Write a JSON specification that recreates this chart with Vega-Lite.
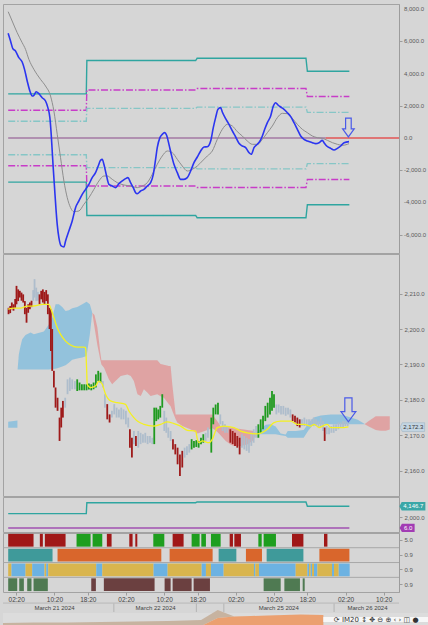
{
  "$schema": "https://vega.github.io/schema/vega-lite/v6.json",
  "background": "#d6d6d6",
  "padding": {"left": 2, "top": 3, "right": 0, "bottom": 0},
  "spacing": 1,
  "bounds": "flush",
  "config": {
    "view": {"stroke": "#a3a3a3", "strokeWidth": 1},
    "axis": {"labelFont": "Liberation Sans", "labelFontSize": 6, "labelColor": "#5a5a5a", "domainColor": "#9c9c9c", "tickColor": "#9c9c9c", "tickSize": 3, "labelPadding": 2, "grid": false, "title": null, "labelFlush": false},
    "text": {"font": "Liberation Sans"}
  },
  "resolve": {"scale": {"x": "independent", "y": "independent", "color": "independent", "strokeDash": "independent"}},
  "datasets": {
    "bands": [
      {"h":-1.68,"v":2740,"b":"t","s":"tu"},{"h":14.68,"v":2740,"b":"t","s":"tu"},{"h":14.8,"v":4810,"b":"t","s":"tu"},{"h":37.6,"v":4810,"b":"t","s":"tu"},{"h":37.9,"v":4950,"b":"t","s":"tu"},{"h":60.71,"v":4950,"b":"t","s":"tu"},{"h":61.0,"v":4146.7,"b":"t","s":"tu"},{"h":69.8,"v":4146.7,"b":"t","s":"tu"},
      {"h":-1.68,"v":-2740,"b":"t","s":"tl"},{"h":14.68,"v":-2740,"b":"t","s":"tl"},{"h":14.8,"v":-4810,"b":"t","s":"tl"},{"h":37.6,"v":-4810,"b":"t","s":"tl"},{"h":37.9,"v":-4950,"b":"t","s":"tl"},{"h":60.71,"v":-4950,"b":"t","s":"tl"},{"h":61.0,"v":-4146.7,"b":"t","s":"tl"},{"h":69.8,"v":-4146.7,"b":"t","s":"tl"},
      {"h":-1.68,"v":1720,"b":"m","s":"mu"},{"h":14.68,"v":1720,"b":"m","s":"mu"},{"h":14.8,"v":2980,"b":"m","s":"mu"},{"h":37.6,"v":2980,"b":"m","s":"mu"},{"h":37.9,"v":3070,"b":"m","s":"mu"},{"h":60.71,"v":3070,"b":"m","s":"mu"},{"h":61.0,"v":2577,"b":"m","s":"mu"},{"h":69.8,"v":2577,"b":"m","s":"mu"},
      {"h":-1.68,"v":-1720,"b":"m","s":"ml"},{"h":14.68,"v":-1720,"b":"m","s":"ml"},{"h":14.8,"v":-2980,"b":"m","s":"ml"},{"h":37.6,"v":-2980,"b":"m","s":"ml"},{"h":37.9,"v":-3070,"b":"m","s":"ml"},{"h":60.71,"v":-3070,"b":"m","s":"ml"},{"h":61.0,"v":-2577,"b":"m","s":"ml"},{"h":69.8,"v":-2577,"b":"m","s":"ml"},
      {"h":-1.68,"v":1045,"b":"l","s":"lu"},{"h":14.68,"v":1045,"b":"l","s":"lu"},{"h":14.8,"v":1840,"b":"l","s":"lu"},{"h":37.6,"v":1840,"b":"l","s":"lu"},{"h":37.9,"v":1915,"b":"l","s":"lu"},{"h":60.71,"v":1915,"b":"l","s":"lu"},{"h":61.0,"v":1594,"b":"l","s":"lu"},{"h":69.8,"v":1594,"b":"l","s":"lu"},
      {"h":-1.68,"v":-1045,"b":"l","s":"ll"},{"h":14.68,"v":-1045,"b":"l","s":"ll"},{"h":14.8,"v":-1840,"b":"l","s":"ll"},{"h":37.6,"v":-1840,"b":"l","s":"ll"},{"h":37.9,"v":-1915,"b":"l","s":"ll"},{"h":60.71,"v":-1915,"b":"l","s":"ll"},{"h":61.0,"v":-1594,"b":"l","s":"ll"},{"h":69.8,"v":-1594,"b":"l","s":"ll"}
    ],
    "zero": [{"a":-1.68,"e":64.85,"k":"p"},{"a":64.85,"e":80.2,"k":"r"}],
    "ylab1": [{"v":8000,"t":"8,000.0"},{"v":6000,"t":"6,000.0"},{"v":4000,"t":"4,000.0"},{"v":2000,"t":"2,000.0"},{"v":0,"t":"0.0"},{"v":-2000,"t":"-2,000.0"},{"v":-4000,"t":"-4,000.0"},{"v":-6000,"t":"-6,000.0"}],
    "osc": [
      {"h":-1.68,"v":6500,"s":"b"},{"h":-1.19,"v":6024,"s":"b"},{"h":-0.71,"v":5548,"s":"b"},{"h":-0.15,"v":5403,"s":"b"},{"h":0.55,"v":4989,"s":"b"},{"h":1.25,"v":4720,"s":"b"},{"h":1.74,"v":4264,"s":"b"},{"h":2.3,"v":3540,"s":"b"},{"h":2.86,"v":2919,"s":"b"},{"h":3.35,"v":2608,"s":"b"},{"h":3.7,"v":2650,"s":"b"},{"h":4.19,"v":2877,"s":"b"},{"h":4.74,"v":2753,"s":"b"},{"h":5.44,"v":2505,"s":"b"},{"h":6.14,"v":2298,"s":"b"},{"h":6.63,"v":1884,"s":"b"},{"h":7.05,"v":1263,"s":"b"},{"h":7.33,"v":228,"s":"b"},{"h":7.54,"v":-807,"s":"b"},{"h":7.75,"v":-1842,"s":"b"},{"h":8.03,"v":-3084,"s":"b"},{"h":8.31,"v":-4326,"s":"b"},{"h":8.59,"v":-5361,"s":"b"},{"h":8.94,"v":-6189,"s":"b"},{"h":9.43,"v":-6707,"s":"b"},{"h":9.99,"v":-6769,"s":"b"},{"h":10.34,"v":-6396,"s":"b"},{"h":11.03,"v":-5775,"s":"b"},{"h":11.73,"v":-5154,"s":"b"},{"h":12.43,"v":-4326,"s":"b"},{"h":13.13,"v":-3912,"s":"b"},{"h":13.83,"v":-3498,"s":"b"},{"h":14.53,"v":-3188,"s":"b"},{"h":15.23,"v":-2877,"s":"b"},{"h":15.92,"v":-2463,"s":"b"},{"h":16.62,"v":-2153,"s":"b"},{"h":17.18,"v":-1739,"s":"b"},{"h":17.67,"v":-1387,"s":"b"},{"h":18.02,"v":-1325,"s":"b"},{"h":18.37,"v":-1635,"s":"b"},{"h":18.93,"v":-2360,"s":"b"},{"h":19.42,"v":-2877,"s":"b"},{"h":20.12,"v":-2981,"s":"b"},{"h":20.82,"v":-3084,"s":"b"},{"h":21.52,"v":-2836,"s":"b"},{"h":22.21,"v":-2670,"s":"b"},{"h":22.91,"v":-2525,"s":"b"},{"h":23.4,"v":-2463,"s":"b"},{"h":23.96,"v":-2774,"s":"b"},{"h":24.52,"v":-3084,"s":"b"},{"h":25.01,"v":-3395,"s":"b"},{"h":25.36,"v":-3457,"s":"b"},{"h":26.06,"v":-3291,"s":"b"},{"h":26.76,"v":-3188,"s":"b"},{"h":27.46,"v":-2981,"s":"b"},{"h":28.16,"v":-2774,"s":"b"},{"h":28.72,"v":-2256,"s":"b"},{"h":29.2,"v":-1325,"s":"b"},{"h":29.55,"v":-600,"s":"b"},{"h":30.11,"v":21,"s":"b"},{"h":30.6,"v":228,"s":"b"},{"h":31.09,"v":331,"s":"b"},{"h":31.51,"v":166,"s":"b"},{"h":32.0,"v":-393,"s":"b"},{"h":32.49,"v":-1014,"s":"b"},{"h":33.05,"v":-1635,"s":"b"},{"h":33.75,"v":-2153,"s":"b"},{"h":34.44,"v":-2567,"s":"b"},{"h":35.14,"v":-2567,"s":"b"},{"h":35.84,"v":-2463,"s":"b"},{"h":36.54,"v":-2049,"s":"b"},{"h":37.24,"v":-1532,"s":"b"},{"h":37.94,"v":-1180,"s":"b"},{"h":38.64,"v":-807,"s":"b"},{"h":39.34,"v":-559,"s":"b"},{"h":40.04,"v":-538,"s":"b"},{"h":40.74,"v":-186,"s":"b"},{"h":41.29,"v":642,"s":"b"},{"h":41.78,"v":1263,"s":"b"},{"h":42.27,"v":1780,"s":"b"},{"h":42.83,"v":1884,"s":"b"},{"h":43.18,"v":1615,"s":"b"},{"h":43.88,"v":1201,"s":"b"},{"h":44.58,"v":849,"s":"b"},{"h":45.28,"v":435,"s":"b"},{"h":45.98,"v":62,"s":"b"},{"h":46.67,"v":-331,"s":"b"},{"h":47.37,"v":-497,"s":"b"},{"h":48.07,"v":-600,"s":"b"},{"h":48.77,"v":-911,"s":"b"},{"h":49.26,"v":-1014,"s":"b"},{"h":49.82,"v":-600,"s":"b"},{"h":50.52,"v":-393,"s":"b"},{"h":51.08,"v":-186,"s":"b"},{"h":51.57,"v":124,"s":"b"},{"h":52.06,"v":538,"s":"b"},{"h":52.62,"v":952,"s":"b"},{"h":53.31,"v":1366,"s":"b"},{"h":53.87,"v":1987,"s":"b"},{"h":54.36,"v":2194,"s":"b"},{"h":54.85,"v":2049,"s":"b"},{"h":55.41,"v":1925,"s":"b"},{"h":56.11,"v":1780,"s":"b"},{"h":56.81,"v":1573,"s":"b"},{"h":57.51,"v":1325,"s":"b"},{"h":58.2,"v":952,"s":"b"},{"h":58.9,"v":538,"s":"b"},{"h":59.6,"v":124,"s":"b"},{"h":60.3,"v":-83,"s":"b"},{"h":61.0,"v":-186,"s":"b"},{"h":62.05,"v":-290,"s":"b"},{"h":62.75,"v":-352,"s":"b"},{"h":63.45,"v":-290,"s":"b"},{"h":64.14,"v":-145,"s":"b"},{"h":64.49,"v":-290,"s":"b"},{"h":65.05,"v":-497,"s":"b"},{"h":65.89,"v":-642,"s":"b"},{"h":66.59,"v":-745,"s":"b"},{"h":67.29,"v":-642,"s":"b"},{"h":67.99,"v":-497,"s":"b"},{"h":68.69,"v":-290,"s":"b"},{"h":69.73,"v":-228,"s":"b"},
      {"h":-1.68,"v":7845,"s":"g"},{"h":-0.85,"v":7266,"s":"g"},{"h":0.2,"v":6541,"s":"g"},{"h":1.25,"v":5920,"s":"g"},{"h":1.95,"v":5506,"s":"g"},{"h":2.65,"v":4885,"s":"g"},{"h":3.7,"v":4264,"s":"g"},{"h":5.09,"v":3643,"s":"g"},{"h":6.14,"v":3229,"s":"g"},{"h":7.19,"v":2608,"s":"g"},{"h":7.89,"v":1677,"s":"g"},{"h":8.59,"v":228,"s":"g"},{"h":9.29,"v":-1221,"s":"g"},{"h":9.99,"v":-2670,"s":"g"},{"h":10.69,"v":-3705,"s":"g"},{"h":11.38,"v":-4326,"s":"g"},{"h":12.08,"v":-4575,"s":"g"},{"h":13.13,"v":-4533,"s":"g"},{"h":14.18,"v":-4119,"s":"g"},{"h":15.23,"v":-3705,"s":"g"},{"h":16.28,"v":-3188,"s":"g"},{"h":17.32,"v":-2670,"s":"g"},{"h":18.37,"v":-2360,"s":"g"},{"h":19.07,"v":-2360,"s":"g"},{"h":20.12,"v":-2567,"s":"g"},{"h":21.17,"v":-2774,"s":"g"},{"h":22.56,"v":-2919,"s":"g"},{"h":23.96,"v":-2981,"s":"g"},{"h":25.36,"v":-3084,"s":"g"},{"h":26.41,"v":-2981,"s":"g"},{"h":27.46,"v":-2774,"s":"g"},{"h":28.51,"v":-2256,"s":"g"},{"h":29.55,"v":-1635,"s":"g"},{"h":30.6,"v":-1118,"s":"g"},{"h":31.65,"v":-807,"s":"g"},{"h":32.7,"v":-911,"s":"g"},{"h":33.75,"v":-1325,"s":"g"},{"h":34.79,"v":-1739,"s":"g"},{"h":35.84,"v":-2049,"s":"g"},{"h":36.89,"v":-1946,"s":"g"},{"h":37.94,"v":-1739,"s":"g"},{"h":38.99,"v":-1428,"s":"g"},{"h":40.04,"v":-1118,"s":"g"},{"h":41.08,"v":-807,"s":"g"},{"h":42.13,"v":-83,"s":"g"},{"h":43.18,"v":538,"s":"g"},{"h":44.23,"v":849,"s":"g"},{"h":45.28,"v":745,"s":"g"},{"h":46.32,"v":393,"s":"g"},{"h":47.37,"v":124,"s":"g"},{"h":48.42,"v":-186,"s":"g"},{"h":49.47,"v":-393,"s":"g"},{"h":50.52,"v":-393,"s":"g"},{"h":51.57,"v":-83,"s":"g"},{"h":52.62,"v":331,"s":"g"},{"h":53.66,"v":745,"s":"g"},{"h":54.71,"v":1263,"s":"g"},{"h":55.76,"v":1532,"s":"g"},{"h":56.81,"v":1511,"s":"g"},{"h":57.85,"v":1221,"s":"g"},{"h":58.9,"v":849,"s":"g"},{"h":59.95,"v":538,"s":"g"},{"h":61.0,"v":331,"s":"g"},{"h":62.05,"v":124,"s":"g"},{"h":63.09,"v":21,"s":"g"},{"h":64.14,"v":-21,"s":"g"},{"h":65.19,"v":-145,"s":"g"},{"h":66.24,"v":-290,"s":"g"},{"h":67.29,"v":-393,"s":"g"},{"h":68.34,"v":-455,"s":"g"},{"h":69.38,"v":-393,"s":"g"},{"h":69.73,"v":-352,"s":"g"}
    ],
    "candles": [
      {"h":-1.61,"lo":2204.2,"hi":2206.0,"c":"r"},{"h":-1.26,"lo":2204.5,"hi":2206.5,"c":"r"},{"h":-0.92,"lo":2205.6,"hi":2207.5,"c":"r"},{"h":-0.57,"lo":2205.2,"hi":2207.0,"c":"r"},{"h":-0.22,"lo":2206.0,"hi":2208.5,"c":"r"},{"h":0.06,"lo":2207.0,"hi":2212.2,"c":"r"},{"h":0.41,"lo":2207.9,"hi":2211.2,"c":"r"},{"h":0.76,"lo":2208.9,"hi":2210.8,"c":"r"},{"h":1.11,"lo":2208.0,"hi":2210.3,"c":"r"},{"h":1.46,"lo":2207.5,"hi":2209.8,"c":"r"},{"h":1.81,"lo":2204.2,"hi":2207.9,"c":"r"},{"h":2.16,"lo":2201.8,"hi":2206.0,"c":"r"},{"h":2.51,"lo":2204.6,"hi":2207.0,"c":"r"},{"h":2.86,"lo":2205.6,"hi":2207.5,"c":"r"},{"h":3.21,"lo":2206.2,"hi":2208.0,"c":"r"},
      {"h":3.56,"lo":2208.0,"hi":2211.0,"c":"n"},{"h":3.84,"lo":2208.9,"hi":2214.1,"c":"n"},{"h":4.19,"lo":2207.9,"hi":2211.7,"c":"n"},{"h":4.54,"lo":2208.0,"hi":2210.5,"c":"n"},{"h":4.88,"lo":2207.0,"hi":2209.8,"c":"r"},{"h":5.23,"lo":2208.4,"hi":2210.8,"c":"r"},{"h":5.58,"lo":2207.5,"hi":2211.2,"c":"r"},{"h":5.93,"lo":2207.0,"hi":2210.5,"c":"r"},{"h":6.28,"lo":2207.9,"hi":2211.0,"c":"r"},{"h":6.63,"lo":2204.2,"hi":2209.8,"c":"r"},{"h":6.98,"lo":2200.0,"hi":2206.0,"c":"r"},{"h":7.26,"lo":2193.8,"hi":2205.6,"c":"r"},{"h":7.54,"lo":2188.2,"hi":2200.0,"c":"r"},{"h":7.89,"lo":2183.5,"hi":2188.2,"c":"r"},{"h":8.24,"lo":2177.8,"hi":2183.5,"c":"r"},{"h":8.66,"lo":2176.9,"hi":2180.6,"c":"r"},{"h":9.08,"lo":2168.4,"hi":2175.0,"c":"r"},{"h":9.43,"lo":2172.2,"hi":2177.8,"c":"r"},{"h":9.78,"lo":2175.0,"hi":2179.7,"c":"r"},
      {"h":10.26,"lo":2177.8,"hi":2180.6,"c":"n"},{"h":10.75,"lo":2181.6,"hi":2185.8,"c":"n"},{"h":11.24,"lo":2182.5,"hi":2186.3,"c":"n"},{"h":11.73,"lo":2183.0,"hi":2185.8,"c":"n"},{"h":12.29,"lo":2183.0,"hi":2185.3,"c":"n"},{"h":12.78,"lo":2182.5,"hi":2185.8,"c":"g"},{"h":13.27,"lo":2182.7,"hi":2184.9,"c":"g"},{"h":13.76,"lo":2182.7,"hi":2184.4,"c":"g"},{"h":14.25,"lo":2182.7,"hi":2184.4,"c":"g"},{"h":14.74,"lo":2182.7,"hi":2184.4,"c":"g"},{"h":15.23,"lo":2182.9,"hi":2184.6,"c":"g"},{"h":15.72,"lo":2182.7,"hi":2184.4,"c":"g"},{"h":16.21,"lo":2183.0,"hi":2184.9,"c":"g"},{"h":16.69,"lo":2183.5,"hi":2187.2,"c":"g"},{"h":17.18,"lo":2185.3,"hi":2188.2,"c":"g"},{"h":17.67,"lo":2184.9,"hi":2187.7,"c":"g"},
      {"h":18.16,"lo":2183.5,"hi":2185.3,"c":"n"},{"h":18.58,"lo":2177.8,"hi":2181.6,"c":"n"},{"h":19.07,"lo":2174.5,"hi":2178.8,"c":"r"},{"h":19.56,"lo":2173.6,"hi":2175.9,"c":"r"},{"h":20.05,"lo":2175.0,"hi":2176.9,"c":"n"},{"h":20.54,"lo":2175.9,"hi":2178.8,"c":"n"},{"h":21.03,"lo":2175.0,"hi":2177.8,"c":"n"},{"h":21.52,"lo":2175.0,"hi":2177.3,"c":"n"},{"h":22.0,"lo":2174.5,"hi":2177.8,"c":"n"},{"h":22.49,"lo":2174.5,"hi":2177.3,"c":"n"},{"h":22.98,"lo":2173.1,"hi":2176.9,"c":"n"},{"h":23.47,"lo":2172.2,"hi":2175.0,"c":"n"},{"h":23.82,"lo":2166.5,"hi":2171.7,"c":"r"},{"h":24.24,"lo":2163.7,"hi":2169.3,"c":"r"},{"h":24.66,"lo":2167.5,"hi":2171.2,"c":"n"},{"h":25.08,"lo":2167.0,"hi":2169.8,"c":"r"},{"h":25.57,"lo":2166.5,"hi":2171.2,"c":"n"},
      {"h":26.06,"lo":2167.5,"hi":2170.7,"c":"n"},{"h":26.55,"lo":2167.9,"hi":2170.3,"c":"n"},{"h":27.04,"lo":2167.9,"hi":2170.7,"c":"n"},{"h":27.53,"lo":2167.5,"hi":2169.8,"c":"n"},{"h":28.02,"lo":2167.9,"hi":2169.8,"c":"n"},{"h":28.51,"lo":2167.5,"hi":2169.3,"c":"n"},{"h":28.92,"lo":2167.5,"hi":2177.8,"c":"g"},{"h":29.34,"lo":2174.0,"hi":2177.8,"c":"g"},{"h":29.76,"lo":2174.5,"hi":2177.3,"c":"g"},{"h":30.18,"lo":2175.0,"hi":2178.3,"c":"g"},{"h":30.6,"lo":2177.8,"hi":2181.6,"c":"g"},{"h":31.02,"lo":2171.2,"hi":2176.9,"c":"n"},{"h":31.44,"lo":2170.7,"hi":2175.0,"c":"n"},{"h":31.86,"lo":2169.3,"hi":2172.2,"c":"n"},{"h":32.35,"lo":2168.4,"hi":2171.2,"c":"n"},
      {"h":32.84,"lo":2166.0,"hi":2168.9,"c":"r"},{"h":33.33,"lo":2164.6,"hi":2167.5,"c":"r"},{"h":33.81,"lo":2161.8,"hi":2166.5,"c":"r"},{"h":34.3,"lo":2158.5,"hi":2164.6,"c":"r"},{"h":34.79,"lo":2160.9,"hi":2165.6,"c":"r"},{"h":35.28,"lo":2163.7,"hi":2166.5,"c":"n"},{"h":35.77,"lo":2164.4,"hi":2166.9,"c":"n"},{"h":36.26,"lo":2165.1,"hi":2167.5,"c":"n"},{"h":36.75,"lo":2166.0,"hi":2168.9,"c":"g"},{"h":37.24,"lo":2166.5,"hi":2168.4,"c":"g"},{"h":37.73,"lo":2166.7,"hi":2168.6,"c":"g"},{"h":38.22,"lo":2166.5,"hi":2168.4,"c":"g"},{"h":38.71,"lo":2167.5,"hi":2169.3,"c":"g"},{"h":39.2,"lo":2167.9,"hi":2170.3,"c":"g"},{"h":39.69,"lo":2168.4,"hi":2170.7,"c":"n"},{"h":40.17,"lo":2169.3,"hi":2172.2,"c":"n"},
      {"h":40.87,"lo":2165.1,"hi":2175.0,"c":"g"},{"h":41.29,"lo":2173.1,"hi":2177.8,"c":"g"},{"h":41.78,"lo":2175.9,"hi":2178.7,"c":"g"},{"h":42.27,"lo":2175.9,"hi":2179.2,"c":"g"},{"h":42.76,"lo":2173.1,"hi":2175.9,"c":"n"},{"h":43.25,"lo":2171.2,"hi":2174.0,"c":"n"},{"h":43.74,"lo":2170.7,"hi":2173.1,"c":"n"},{"h":44.23,"lo":2170.7,"hi":2172.6,"c":"n"},{"h":44.86,"lo":2167.9,"hi":2171.7,"c":"r"},{"h":45.35,"lo":2167.5,"hi":2171.2,"c":"r"},{"h":45.84,"lo":2167.0,"hi":2170.7,"c":"r"},{"h":46.32,"lo":2166.5,"hi":2169.8,"c":"r"},{"h":46.81,"lo":2164.6,"hi":2169.3,"c":"r"},
      {"h":47.3,"lo":2166.5,"hi":2170.3,"c":"n"},{"h":47.79,"lo":2166.0,"hi":2169.8,"c":"n"},{"h":48.28,"lo":2165.6,"hi":2169.3,"c":"n"},{"h":48.77,"lo":2165.1,"hi":2168.9,"c":"n"},{"h":49.26,"lo":2167.0,"hi":2170.7,"c":"n"},{"h":49.75,"lo":2167.9,"hi":2171.7,"c":"n"},{"h":50.24,"lo":2169.3,"hi":2172.6,"c":"n"},{"h":50.73,"lo":2169.3,"hi":2173.1,"c":"g"},{"h":51.22,"lo":2170.7,"hi":2174.5,"c":"g"},{"h":51.71,"lo":2171.7,"hi":2175.5,"c":"g"},{"h":52.19,"lo":2174.0,"hi":2178.3,"c":"g"},{"h":52.68,"lo":2175.0,"hi":2179.2,"c":"g"},{"h":53.17,"lo":2175.9,"hi":2180.6,"c":"g"},{"h":53.59,"lo":2176.9,"hi":2182.5,"c":"g"},{"h":54.01,"lo":2177.8,"hi":2181.6,"c":"g"},
      {"h":54.5,"lo":2175.9,"hi":2178.7,"c":"n"},{"h":54.99,"lo":2176.4,"hi":2178.7,"c":"n"},{"h":55.48,"lo":2175.9,"hi":2178.3,"c":"n"},{"h":55.97,"lo":2175.9,"hi":2178.3,"c":"n"},{"h":56.46,"lo":2175.5,"hi":2177.8,"c":"n"},{"h":56.95,"lo":2175.9,"hi":2177.8,"c":"n"},{"h":57.44,"lo":2175.0,"hi":2177.3,"c":"n"},{"h":57.92,"lo":2174.0,"hi":2175.9,"c":"r"},{"h":58.41,"lo":2173.6,"hi":2175.5,"c":"r"},{"h":58.9,"lo":2172.6,"hi":2175.0,"c":"r"},{"h":59.39,"lo":2172.2,"hi":2174.5,"c":"r"},
      {"h":59.88,"lo":2172.6,"hi":2174.5,"c":"n"},{"h":60.37,"lo":2172.6,"hi":2175.0,"c":"n"},{"h":60.86,"lo":2172.6,"hi":2174.5,"c":"n"},{"h":61.35,"lo":2173.1,"hi":2174.5,"c":"n"},{"h":61.84,"lo":2172.6,"hi":2174.5,"c":"n"},{"h":62.33,"lo":2172.6,"hi":2175.0,"c":"n"},{"h":62.82,"lo":2172.6,"hi":2174.5,"c":"n"},{"h":63.31,"lo":2172.2,"hi":2174.0,"c":"n"},{"h":63.8,"lo":2172.2,"hi":2175.0,"c":"n"},{"h":64.28,"lo":2171.2,"hi":2174.0,"c":"n"},{"h":64.63,"lo":2168.4,"hi":2172.2,"c":"r"},{"h":65.05,"lo":2170.3,"hi":2172.6,"c":"n"},{"h":65.54,"lo":2170.3,"hi":2172.2,"c":"n"},{"h":66.03,"lo":2170.7,"hi":2172.6,"c":"n"},{"h":66.52,"lo":2170.7,"hi":2173.1,"c":"n"},{"h":67.01,"lo":2171.2,"hi":2173.1,"c":"n"},{"h":67.5,"lo":2171.7,"hi":2173.6,"c":"n"},{"h":67.99,"lo":2172.2,"hi":2173.6,"c":"n"},{"h":68.48,"lo":2172.2,"hi":2174.0,"c":"n"},{"h":68.96,"lo":2172.6,"hi":2174.0,"c":"n"},{"h":69.45,"lo":2172.6,"hi":2173.6,"c":"n"}
    ],
    "cloud": [
      {"h":-1.68,"t":2173.8,"b":2172.1,"k":"bl","g":"b0"},{"h":0.25,"t":2174.2,"b":2172.1,"k":"bl","g":"b0"},
      {"h":0.3,"t":2188.8,"b":2188.6,"k":"bl","g":"b1"},{"h":0.55,"t":2192.9,"b":2188.6,"k":"bl","g":"b1"},{"h":0.9,"t":2195.2,"b":2188.6,"k":"bl","g":"b1"},{"h":1.25,"t":2197.1,"b":2188.6,"k":"bl","g":"b1"},{"h":1.95,"t":2198.3,"b":2188.6,"k":"bl","g":"b1"},{"h":3.0,"t":2199.0,"b":2188.6,"k":"bl","g":"b1"},{"h":3.7,"t":2198.5,"b":2188.6,"k":"bl","g":"b1"},{"h":5.79,"t":2199.3,"b":2188.6,"k":"bl","g":"b1"},{"h":6.84,"t":2201.3,"b":2188.6,"k":"bl","g":"b1"},{"h":7.55,"t":2203.2,"b":2188.7,"k":"bl","g":"b1"},{"h":8.24,"t":2207.0,"b":2188.8,"k":"bl","g":"b1"},{"h":8.94,"t":2207.0,"b":2189.1,"k":"bl","g":"b1"},{"h":9.64,"t":2206.2,"b":2189.4,"k":"bl","g":"b1"},{"h":10.34,"t":2205.1,"b":2189.8,"k":"bl","g":"b1"},{"h":11.03,"t":2205.3,"b":2190.5,"k":"bl","g":"b1"},{"h":11.74,"t":2205.9,"b":2191.3,"k":"bl","g":"b1"},{"h":12.79,"t":2206.2,"b":2191.7,"k":"bl","g":"b1"},{"h":13.84,"t":2207.0,"b":2192.0,"k":"bl","g":"b1"},{"h":14.74,"t":2207.7,"b":2192.4,"k":"bl","g":"b1"},{"h":15.43,"t":2207.0,"b":2198.5,"k":"bl","g":"b1"},{"h":15.93,"t":2204.6,"b":2204.6,"k":"bl","g":"b1"},
      {"h":15.93,"t":2204.6,"b":2204.6,"k":"rd","g":"r1"},{"h":16.4,"t":2204.0,"b":2200.5,"k":"rd","g":"r1"},{"h":17.0,"t":2200.5,"b":2195.5,"k":"rd","g":"r1"},{"h":17.6,"t":2193.5,"b":2191.5,"k":"rd","g":"r1"},{"h":17.85,"t":2191.2,"b":2190.0,"k":"rd","g":"r1"},{"h":18.4,"t":2191.2,"b":2189.1,"k":"rd","g":"r1"},{"h":19.4,"t":2191.2,"b":2185.8,"k":"rd","g":"r1"},{"h":20.1,"t":2191.2,"b":2184.4,"k":"rd","g":"r1"},{"h":20.8,"t":2191.2,"b":2185.3,"k":"rd","g":"r1"},{"h":21.9,"t":2191.2,"b":2186.75,"k":"rd","g":"r1"},{"h":23.3,"t":2191.2,"b":2187.2,"k":"rd","g":"r1"},{"h":24.0,"t":2191.2,"b":2186.75,"k":"rd","g":"r1"},{"h":24.65,"t":2191.2,"b":2185.3,"k":"rd","g":"r1"},{"h":25.4,"t":2191.2,"b":2181.6,"k":"rd","g":"r1"},{"h":26.1,"t":2191.2,"b":2181.1,"k":"rd","g":"r1"},{"h":26.75,"t":2191.2,"b":2183.0,"k":"rd","g":"r1"},{"h":27.46,"t":2191.2,"b":2182.05,"k":"rd","g":"r1"},{"h":28.16,"t":2191.2,"b":2181.1,"k":"rd","g":"r1"},{"h":29.56,"t":2191.2,"b":2181.6,"k":"rd","g":"r1"},{"h":30.25,"t":2190.1,"b":2181.0,"k":"rd","g":"r1"},{"h":30.94,"t":2189.9,"b":2180.6,"k":"rd","g":"r1"},{"h":31.99,"t":2189.6,"b":2178.75,"k":"rd","g":"r1"},{"h":32.35,"t":2189.6,"b":2178.2,"k":"rd","g":"r1"},{"h":32.7,"t":2184.4,"b":2176.9,"k":"rd","g":"r1"},{"h":33.4,"t":2175.9,"b":2174.5,"k":"rd","g":"r1"},{"h":33.75,"t":2175.9,"b":2173.6,"k":"rd","g":"r1"},{"h":34.8,"t":2175.9,"b":2172.6,"k":"rd","g":"r1"},{"h":36.5,"t":2175.9,"b":2171.7,"k":"rd","g":"r1"},{"h":38.0,"t":2175.9,"b":2170.5,"k":"rd","g":"r1"},{"h":39.5,"t":2175.9,"b":2171.2,"k":"rd","g":"r1"},{"h":41.1,"t":2175.9,"b":2172.0,"k":"rd","g":"r1"},{"h":42.1,"t":2174.0,"b":2171.0,"k":"rd","g":"r1"},{"h":42.8,"t":2172.6,"b":2170.0,"k":"rd","g":"r1"},{"h":43.9,"t":2172.4,"b":2168.4,"k":"rd","g":"r1"},{"h":44.9,"t":2172.2,"b":2167.4,"k":"rd","g":"r1"},{"h":45.6,"t":2172.0,"b":2167.0,"k":"rd","g":"r1"},{"h":47.0,"t":2171.8,"b":2167.0,"k":"rd","g":"r1"},{"h":48.4,"t":2171.5,"b":2167.4,"k":"rd","g":"r1"},{"h":49.5,"t":2171.3,"b":2168.4,"k":"rd","g":"r1"},{"h":50.2,"t":2170.6,"b":2170.0,"k":"rd","g":"r1"},
      {"h":50.2,"t":2170.6,"b":2170.0,"k":"bl","g":"b2"},{"h":51.22,"t":2171.8,"b":2170.3,"k":"bl","g":"b2"},{"h":52.26,"t":2173.0,"b":2170.3,"k":"bl","g":"b2"},{"h":53.31,"t":2173.1,"b":2170.3,"k":"bl","g":"b2"},{"h":54.36,"t":2172.5,"b":2170.3,"k":"bl","g":"b2"},{"h":55.41,"t":2170.5,"b":2170.0,"k":"bl","g":"b2"},{"h":56.46,"t":2170.2,"b":2169.8,"k":"bl","g":"b2"},{"h":56.88,"t":2171.2,"b":2169.3,"k":"bl","g":"b2"},{"h":58.55,"t":2171.2,"b":2169.3,"k":"bl","g":"b2"},{"h":60.23,"t":2171.5,"b":2169.3,"k":"bl","g":"b2"},{"h":61.28,"t":2173.5,"b":2171.5,"k":"bl","g":"b2"},{"h":62.33,"t":2175.0,"b":2173.1,"k":"bl","g":"b2"},{"h":63.8,"t":2175.6,"b":2173.1,"k":"bl","g":"b2"},{"h":65.9,"t":2175.9,"b":2173.1,"k":"bl","g":"b2"},{"h":68.0,"t":2175.9,"b":2173.1,"k":"bl","g":"b2"},{"h":70.1,"t":2175.0,"b":2173.1,"k":"bl","g":"b2"},{"h":71.55,"t":2174.4,"b":2173.1,"k":"bl","g":"b2"},{"h":73.02,"t":2173.2,"b":2173.1,"k":"bl","g":"b2"},
      {"h":73.02,"t":2173.2,"b":2173.1,"k":"rd","g":"r2"},{"h":73.86,"t":2174.0,"b":2172.5,"k":"rd","g":"r2"},{"h":75.33,"t":2175.4,"b":2171.5,"k":"rd","g":"r2"},{"h":76.37,"t":2175.4,"b":2171.3,"k":"rd","g":"r2"},{"h":77.42,"t":2175.4,"b":2171.3,"k":"rd","g":"r2"},{"h":78.26,"t":2175.4,"b":2171.6,"k":"rd","g":"r2"}
    ],
    "yellow": [
      {"h":-1.68,"v":2205.6},{"h":-0.5,"v":2205.9},{"h":0.9,"v":2205.9},{"h":2.3,"v":2206.5},{"h":3.35,"v":2206.5},{"h":4.4,"v":2206.7},{"h":5.45,"v":2207.0},{"h":6.84,"v":2207.0},{"h":7.19,"v":2206.05},{"h":7.89,"v":2203.2},{"h":8.6,"v":2200.4},{"h":9.29,"v":2198.5},{"h":10.34,"v":2196.6},{"h":11.38,"v":2195.5},{"h":12.79,"v":2194.9},{"h":14.18,"v":2194.9},{"h":14.53,"v":2194.75},{"h":14.74,"v":2189.1},{"h":14.88,"v":2184.4},{"h":15.58,"v":2183.45},{"h":16.62,"v":2183.9},{"h":17.32,"v":2185.3},{"h":18.03,"v":2184.4},{"h":18.72,"v":2181.6},{"h":19.77,"v":2179.7},{"h":21.17,"v":2179.2},{"h":22.91,"v":2178.75},{"h":23.61,"v":2176.86},{"h":24.65,"v":2174.98},{"h":25.37,"v":2174.0},{"h":26.75,"v":2173.1},{"h":28.85,"v":2172.6},{"h":30.25,"v":2173.1},{"h":31.66,"v":2173.8},{"h":33.04,"v":2173.3},{"h":34.45,"v":2172.6},{"h":35.85,"v":2171.4},{"h":37.59,"v":2171.2},{"h":37.95,"v":2168.9},{"h":38.28,"v":2167.9},{"h":38.99,"v":2168.4},{"h":40.38,"v":2167.9},{"h":41.09,"v":2168.9},{"h":42.14,"v":2172.15},{"h":43.52,"v":2172.6},{"h":45.62,"v":2172.15},{"h":47.02,"v":2171.2},{"h":48.43,"v":2170.7},{"h":50.52,"v":2170.4},{"h":52.62,"v":2171.7},{"h":54.0,"v":2173.57},{"h":55.41,"v":2174.0},{"h":57.51,"v":2174.0},{"h":58.91,"v":2173.1},{"h":60.29,"v":2173.1},{"h":61.7,"v":2172.6},{"h":62.39,"v":2173.1},{"h":63.44,"v":2172.2},{"h":64.15,"v":2172.6},{"h":65.2,"v":2173.1},{"h":65.89,"v":2172.15},{"h":67.99,"v":2172.15},{"h":69.6,"v":2172.4}
    ],
    "strips": [
      {"x0":-1.68,"x1":3.63,"row":"A","c":"red"},{"x0":4.95,"x1":5.58,"row":"A","c":"red"},{"x0":6.0,"x1":10.34,"row":"A","c":"red"},{"x0":12.64,"x1":15.58,"row":"A","c":"green"},{"x0":16.0,"x1":18.03,"row":"A","c":"green"},{"x0":18.99,"x1":19.98,"row":"A","c":"red"},{"x0":23.69,"x1":24.38,"row":"A","c":"red"},{"x0":24.95,"x1":25.37,"row":"A","c":"red"},{"x0":28.72,"x1":31.03,"row":"A","c":"green"},{"x0":32.77,"x1":35.07,"row":"A","c":"red"},{"x0":36.75,"x1":38.43,"row":"A","c":"green"},{"x0":38.78,"x1":39.75,"row":"A","c":"green"},{"x0":40.8,"x1":42.83,"row":"A","c":"green"},{"x0":44.72,"x1":45.41,"row":"A","c":"red"},{"x0":45.7,"x1":47.09,"row":"A","c":"red"},{"x0":50.73,"x1":51.43,"row":"A","c":"green"},{"x0":51.84,"x1":54.42,"row":"A","c":"green"},{"x0":57.78,"x1":60.17,"row":"A","c":"red"},{"x0":64.49,"x1":65.2,"row":"A","c":"red"},
      {"x0":-1.68,"x1":7.61,"row":"B","c":"teal"},{"x0":8.66,"x1":30.4,"row":"B","c":"orange"},{"x0":32.14,"x1":41.15,"row":"B","c":"orange"},{"x0":42.41,"x1":46.12,"row":"B","c":"teal"},{"x0":48.13,"x1":51.49,"row":"B","c":"orange"},{"x0":52.47,"x1":60.17,"row":"B","c":"teal"},{"x0":63.52,"x1":69.81,"row":"B","c":"orange"},
      {"x0":-1.68,"x1":-0.99,"row":"C","c":"yellow"},{"x0":-0.99,"x1":1.95,"row":"C","c":"blue"},{"x0":1.95,"x1":3.35,"row":"C","c":"yellow"},{"x0":3.35,"x1":5.93,"row":"C","c":"blue"},{"x0":5.93,"x1":6.29,"row":"C","c":"yellow"},{"x0":6.29,"x1":6.71,"row":"C","c":"blue"},{"x0":6.71,"x1":16.77,"row":"C","c":"yellow"},{"x0":16.77,"x1":18.03,"row":"C","c":"blue"},{"x0":18.03,"x1":28.78,"row":"C","c":"yellow"},{"x0":28.78,"x1":31.72,"row":"C","c":"blue"},{"x0":31.72,"x1":38.85,"row":"C","c":"yellow"},{"x0":38.85,"x1":39.75,"row":"C","c":"blue"},{"x0":39.75,"x1":40.8,"row":"C","c":"yellow"},{"x0":40.8,"x1":43.46,"row":"C","c":"blue"},{"x0":43.46,"x1":49.81,"row":"C","c":"yellow"},{"x0":49.81,"x1":50.1,"row":"C","c":"blue"},{"x0":50.1,"x1":50.86,"row":"C","c":"yellow"},{"x0":50.86,"x1":58.55,"row":"C","c":"blue"},{"x0":58.55,"x1":61.01,"row":"C","c":"yellow"},{"x0":61.01,"x1":61.35,"row":"C","c":"blue"},{"x0":61.35,"x1":61.7,"row":"C","c":"yellow"},{"x0":61.7,"x1":61.98,"row":"C","c":"blue"},{"x0":61.98,"x1":62.39,"row":"C","c":"yellow"},{"x0":62.39,"x1":63.1,"row":"C","c":"blue"},{"x0":63.1,"x1":66.16,"row":"C","c":"yellow"},{"x0":66.16,"x1":66.58,"row":"C","c":"blue"},{"x0":66.58,"x1":67.57,"row":"C","c":"yellow"},{"x0":67.57,"x1":69.87,"row":"C","c":"blue"},
      {"x0":-1.68,"x1":0.21,"row":"D","c":"dgreen"},{"x0":0.63,"x1":1.6,"row":"D","c":"dgreen"},{"x0":2.3,"x1":3.2,"row":"D","c":"dgreen"},{"x0":3.63,"x1":6.62,"row":"D","c":"dgreen"},{"x0":15.72,"x1":16.69,"row":"D","c":"brown"},{"x0":18.36,"x1":28.99,"row":"D","c":"brown"},{"x0":31.09,"x1":32.35,"row":"D","c":"brown"},{"x0":32.77,"x1":36.75,"row":"D","c":"brown"},{"x0":37.17,"x1":40.59,"row":"D","c":"brown"},{"x0":51.84,"x1":55.41,"row":"D","c":"dgreen"},{"x0":56.18,"x1":59.45,"row":"D","c":"dgreen"},{"x0":60.02,"x1":60.44,"row":"D","c":"dgreen"}
    ],
    "dates": [
      {"h":8.03,"label":"March 21 2024"},{"h":29.2,"label":"March 22 2024"},{"h":55.0,"label":"March 25 2024"},{"h":73.6,"label":"March 26 2024"}
    ],
    "daysep": [{"h":20.46},{"h":37.74},{"h":43.5},{"h":66.6}],
    "nav": [
      {"p":0,"lv":3,"part":"a"},{"p":7.3,"lv":3.5,"part":"a"},{"p":15.2,"lv":3.5,"part":"a"},{"p":23,"lv":4,"part":"a"},{"p":30.8,"lv":4.5,"part":"a"},{"p":38.7,"lv":5,"part":"a"},{"p":46.5,"lv":6,"part":"a"},{"p":50.4,"lv":8,"part":"a"},
      {"p":50.4,"lv":8,"part":"b"},{"p":54.3,"lv":9.5,"part":"b"},{"p":58.2,"lv":10,"part":"b"},{"p":62.1,"lv":10.5,"part":"b"},{"p":66,"lv":11,"part":"b"},{"p":69.9,"lv":11.5,"part":"b"},{"p":75.2,"lv":11,"part":"b"}
    ]
  },
  "vconcat": [
    {
      "width": 396, "height": 249,
      "layer": [
        {
          "data": {"name": "bands"},
          "mark": {"type": "line", "strokeWidth": 1.4},
          "encoding": {
            "x": {"field": "h", "type": "quantitative", "scale": {"domain": [-2.77, 80.2], "nice": false, "zero": false}, "axis": null},
            "y": {"field": "v", "type": "quantitative", "scale": {"domain": [-7143, 8323], "nice": false, "zero": false}, "axis": {"orient": "right", "values": [-6000, -4000, -2000, 0, 2000, 4000, 6000, 8000], "labels": false}},
            "detail": {"field": "s"},
            "color": {"field": "b", "type": "nominal", "scale": {"domain": ["t", "m", "l"], "range": ["#2fa5a0", "#c83cc8", "#86c6c6"]}, "legend": null},
            "strokeDash": {"field": "b", "type": "nominal", "scale": {"domain": ["t", "m", "l"], "range": [[1, 0], [7, 2, 1.5, 2], [7, 2, 1.5, 2]]}, "legend": null}
          }
        },
        {
          "data": {"name": "ylab1"},
          "mark": {"type": "text", "fontSize": 6, "color": "#5a5a5a", "align": "left", "baseline": "middle", "dx": 5},
          "encoding": {"x": {"datum": 80.2, "type": "quantitative"}, "y": {"field": "v", "type": "quantitative"}, "text": {"field": "t"}}
        },
        {
          "data": {"name": "zero"},
          "transform": [{"filter": "datum.k == 'p'"}],
          "mark": {"type": "rule", "color": "#8a4a8a", "strokeWidth": 1.2},
          "encoding": {"x": {"field": "a", "type": "quantitative"}, "x2": {"field": "e"}, "y": {"datum": 0, "type": "quantitative"}}
        },
        {
          "data": {"name": "zero"},
          "transform": [{"filter": "datum.k == 'r'"}],
          "mark": {"type": "rule", "color": "#e25555", "strokeWidth": 1.4},
          "encoding": {"x": {"field": "a", "type": "quantitative"}, "x2": {"field": "e"}, "y": {"datum": 0, "type": "quantitative"}}
        },
        {
          "data": {"name": "osc"},
          "transform": [{"filter": "datum.s == 'g'"}],
          "mark": {"type": "line", "color": "#8e8e8e", "strokeWidth": 1, "interpolate": "monotone"},
          "encoding": {"x": {"field": "h", "type": "quantitative"}, "y": {"field": "v", "type": "quantitative"}}
        },
        {
          "data": {"name": "osc"},
          "transform": [{"filter": "datum.s == 'b'"}],
          "mark": {"type": "line", "color": "#2b35f0", "strokeWidth": 1.6, "interpolate": "monotone"},
          "encoding": {"x": {"field": "h", "type": "quantitative"}, "y": {"field": "v", "type": "quantitative"}}
        },
        {
          "data": {"values": [{"h": 69.6, "v": 650}]},
          "mark": {"type": "point", "shape": "M -0.3 -1 L 0.3 -1 L 0.3 0.15 L 0.62 0.15 L 0 1 L -0.62 0.15 L -0.3 0.15 Z", "size": 350, "filled": false, "color": "#4a5ae8", "strokeWidth": 1.2, "opacity": 1},
          "encoding": {"x": {"field": "h", "type": "quantitative"}, "y": {"field": "v", "type": "quantitative"}}
        }
      ]
    },
    {
      "width": 396, "height": 242,
      "resolve": {"scale": {"color": "independent"}},
      "layer": [
        {
          "data": {"name": "cloud"},
          "mark": {"type": "area", "opacity": 0.95},
          "encoding": {
            "x": {"field": "h", "type": "quantitative", "scale": {"domain": [-2.77, 80.2], "nice": false, "zero": false}, "axis": null},
            "y": {"field": "t", "type": "quantitative", "scale": {"domain": [2152.85, 2221.2], "nice": false, "zero": false}, "axis": {"orient": "right", "values": [2160, 2170, 2180, 2190, 2200, 2210], "format": ",.1f"}},
            "y2": {"field": "b"},
            "detail": {"field": "g"},
            "color": {"field": "k", "type": "nominal", "scale": {"domain": ["bl", "rd"], "range": ["#8fc1dc", "#dfa0a0"]}, "legend": null}
          }
        },
        {
          "data": {"name": "candles"},
          "mark": {"type": "rule", "strokeWidth": 1.8},
          "encoding": {
            "x": {"field": "h", "type": "quantitative"},
            "y": {"field": "lo", "type": "quantitative"},
            "y2": {"field": "hi"},
            "color": {"field": "c", "type": "nominal", "scale": {"domain": ["r", "g", "n"], "range": ["#9e1a1a", "#1f9a1f", "#aebdcc"]}, "legend": null}
          }
        },
        {
          "data": {"name": "yellow"},
          "mark": {"type": "line", "color": "#f4f020", "strokeWidth": 1.3, "interpolate": "monotone"},
          "encoding": {"x": {"field": "h", "type": "quantitative"}, "y": {"field": "v", "type": "quantitative"}}
        },
        {
          "data": {"values": [{"h": 69.6, "v": 2177.2}]},
          "mark": {"type": "point", "shape": "M -0.3 -1 L 0.3 -1 L 0.3 0.15 L 0.62 0.15 L 0 1 L -0.62 0.15 L -0.3 0.15 Z", "size": 576, "filled": false, "color": "#4a5ae8", "strokeWidth": 1.2, "opacity": 1},
          "encoding": {"x": {"field": "h", "type": "quantitative"}, "y": {"field": "v", "type": "quantitative"}}
        },
        {
          "data": {"values": [{"h": 83.0, "v": 2172.3, "t": "2,172.3"}]},
          "layer": [
            {
              "mark": {"type": "point", "shape": "M -1 0 L -0.82 -0.36 L 1 -0.36 L 1 0.36 L -0.82 0.36 Z", "size": 600, "filled": true, "color": "#c3d5e2", "opacity": 1, "stroke": "#9fb6c6", "strokeWidth": 0.6},
              "encoding": {"x": {"field": "h", "type": "quantitative"}, "y": {"field": "v", "type": "quantitative"}}
            },
            {
              "mark": {"type": "text", "fontSize": 6, "color": "#333333", "align": "center", "baseline": "middle", "dx": 1},
              "encoding": {"x": {"field": "h", "type": "quantitative"}, "y": {"field": "v", "type": "quantitative"}, "text": {"field": "t"}}
            }
          ]
        }
      ]
    },
    {
      "width": 396, "height": 35,
      "layer": [
        {
          "data": {"name": "bands"},
          "transform": [{"filter": "datum.s == 'tu'"}],
          "mark": {"type": "line", "color": "#2fa5a0", "strokeWidth": 1.4},
          "encoding": {
            "x": {"field": "h", "type": "quantitative", "scale": {"domain": [-2.77, 80.2], "nice": false, "zero": false}, "axis": null},
            "y": {"field": "v", "type": "quantitative", "scale": {"domain": [-775, 5903], "nice": false, "zero": false}, "axis": {"orient": "right", "values": [2000], "format": ",.1f"}}
          }
        },
        {
          "data": {"values": [{"a": -1.68, "e": 69.8, "v": 6}]},
          "mark": {"type": "rule", "color": "#a050b0", "strokeWidth": 1.5},
          "encoding": {"x": {"field": "a", "type": "quantitative"}, "x2": {"field": "e"}, "y": {"field": "v", "type": "quantitative"}}
        },
        {
          "data": {"values": [{"h": 83.0, "v": 4146.7, "t": "4,146.7"}]},
          "layer": [
            {
              "mark": {"type": "point", "shape": "M -1 0 L -0.82 -0.33 L 1 -0.33 L 1 0.33 L -0.82 0.33 Z", "size": 676, "filled": true, "color": "#3aa7a7", "opacity": 1},
              "encoding": {"x": {"field": "h", "type": "quantitative"}, "y": {"field": "v", "type": "quantitative"}}
            },
            {
              "mark": {"type": "text", "fontSize": 6, "color": "white", "align": "center", "baseline": "middle", "dx": 1},
              "encoding": {"x": {"field": "h", "type": "quantitative"}, "y": {"field": "v", "type": "quantitative"}, "text": {"field": "t"}}
            }
          ]
        },
        {
          "data": {"values": [{"h": 81.9, "v": 6, "t": "6.0"}]},
          "layer": [
            {
              "mark": {"type": "point", "shape": "M -1 0 L -0.7 -0.55 L 1 -0.55 L 1 0.55 L -0.7 0.55 Z", "size": 225, "filled": true, "color": "#a23cb4", "opacity": 1},
              "encoding": {"x": {"field": "h", "type": "quantitative"}, "y": {"field": "v", "type": "quantitative"}}
            },
            {
              "mark": {"type": "text", "fontSize": 6, "color": "white", "align": "center", "baseline": "middle", "dx": 1},
              "encoding": {"x": {"field": "h", "type": "quantitative"}, "y": {"field": "v", "type": "quantitative"}, "text": {"field": "t"}}
            }
          ]
        }
      ]
    },
    {
      "width": 396, "height": 59,
      "layer": [
        {
          "data": {"name": "strips"},
          "mark": {"type": "bar"},
          "encoding": {
            "x": {"field": "x0", "type": "quantitative", "scale": {"domain": [-2.77, 80.2], "nice": false, "zero": false}, "axis": {"orient": "bottom", "values": [0, 8, 15, 23, 31, 38, 46, 54, 61, 69, 77], "labelExpr": "indexof([0,23,46,69], datum.value) >= 0 ? '02:20' : (indexof([8,31,54,77], datum.value) >= 0 ? '10:20' : '18:20')", "labelFontSize": 6.5, "labelColor": "#444444", "tickSize": 3, "labelPadding": 1, "domain": false}},
            "x2": {"field": "x1"},
            "y": {"field": "row", "type": "nominal", "scale": {"domain": ["A", "B", "C", "D"], "paddingInner": 0.14, "paddingOuter": 0.06}, "axis": {"orient": "right", "labelExpr": "datum.value == 'A' ? '5.0' : '0.9'", "domain": true}},
            "color": {"field": "c", "type": "nominal", "scale": {"domain": ["red", "green", "teal", "orange", "yellow", "blue", "dgreen", "brown"], "range": ["#a01818", "#1e9e1e", "#3f9a9a", "#d9662c", "#d9b54e", "#6cb2e2", "#4f7a52", "#6b4040"]}, "legend": null}
          }
        },
        {
          "data": {"values": [{"row": "B"}, {"row": "C"}, {"row": "D"}]},
          "mark": {"type": "rule", "color": "#a8a8a8", "strokeWidth": 1, "yOffset": -1},
          "encoding": {"y": {"field": "row", "type": "nominal", "bandPosition": 0}}
        }
      ]
    },
    {
      "width": 396, "height": 19,
      "view": {"stroke": null},
      "layer": [
        {
          "data": {"name": "daysep"},
          "mark": {"type": "rule", "color": "#b4b4b4", "strokeWidth": 1},
          "encoding": {
            "x": {"field": "h", "type": "quantitative", "scale": {"domain": [-2.77, 80.2], "nice": false, "zero": false}, "axis": null},
            "y": {"datum": 0, "type": "quantitative", "scale": {"domain": [0, 1], "nice": false}, "axis": null},
            "y2": {"datum": 0.45}
          }
        },
        {
          "data": {"values": [{"y": 0.47}]},
          "mark": {"type": "rule", "color": "#b8b8b8", "strokeWidth": 1},
          "encoding": {"y": {"field": "y", "type": "quantitative"}}
        },
        {
          "data": {"name": "dates"},
          "mark": {"type": "text", "fontSize": 6, "color": "#444444", "align": "center", "baseline": "middle"},
          "encoding": {"x": {"field": "h", "type": "quantitative"}, "y": {"datum": 0.23, "type": "quantitative"}, "text": {"field": "label"}}
        }
      ]
    },
    {
      "width": 426, "height": 13,
      "view": {"stroke": null, "fill": "#dcdcdc"},
      "layer": [
        {
          "data": {"name": "nav"},
          "mark": {"type": "area", "opacity": 1},
          "encoding": {
            "x": {"field": "p", "type": "quantitative", "scale": {"domain": [0, 100], "nice": false, "zero": false}, "axis": null},
            "y": {"field": "lv", "type": "quantitative", "scale": {"domain": [0, 13], "nice": false}, "axis": null},
            "detail": {"field": "part"},
            "color": {"field": "part", "type": "nominal", "scale": {"domain": ["a", "b"], "range": ["#c7b3a0", "#eba070"]}, "legend": null}
          }
        },
        {
          "data": {"values": [{"p0": 75.2, "p1": 100, "pm": 87.6, "t": "⟳  IM20  ↕ ✥ ⊖ ⊕  ‹ ›  ◫ ●"}]},
          "layer": [
            {
              "mark": {"type": "bar", "color": "#f7f7f7"},
              "encoding": {"x": {"field": "p0", "type": "quantitative"}, "x2": {"field": "p1"}}
            },
            {
              "mark": {"type": "text", "font": "DejaVu Sans", "fontSize": 7, "color": "#333333", "align": "center", "baseline": "middle"},
              "encoding": {"x": {"field": "pm", "type": "quantitative"}, "text": {"field": "t"}}
            }
          ]
        }
      ]
    }
  ]
}
